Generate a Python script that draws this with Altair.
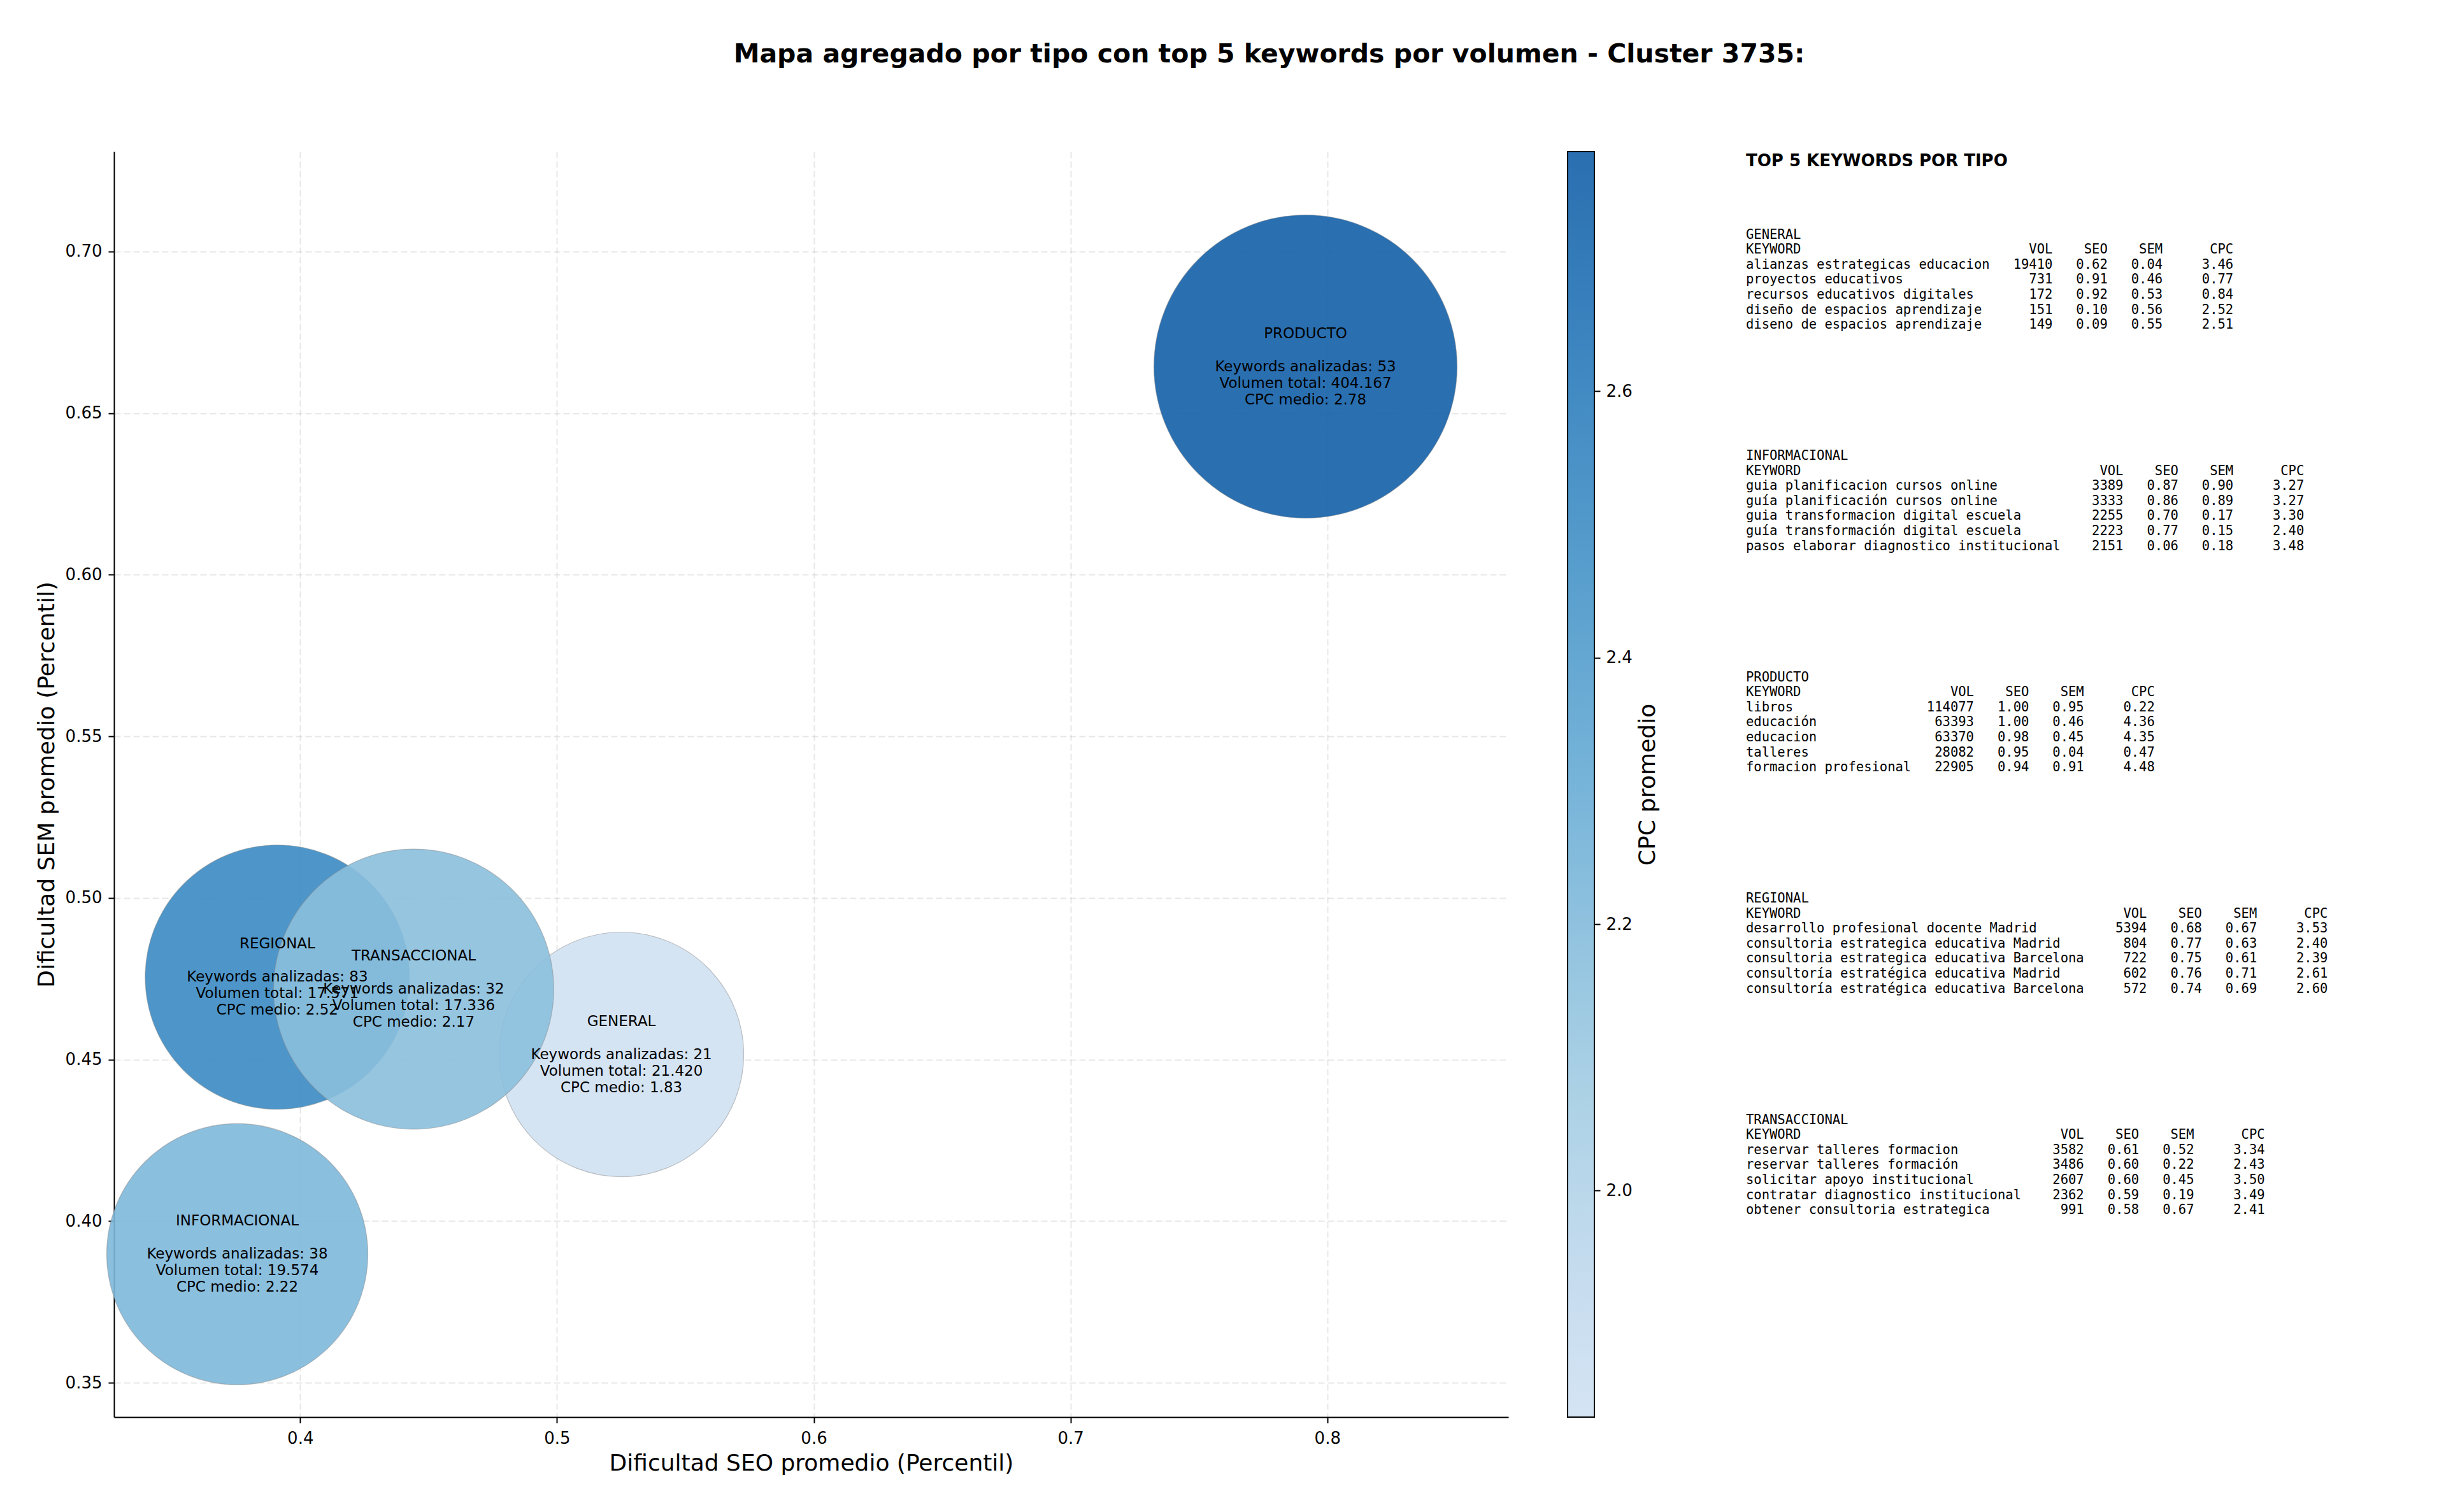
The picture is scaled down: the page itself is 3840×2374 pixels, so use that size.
import altair as alt
import pandas as pd

# ---------------- Datos agregados por tipo ----------------
tipos = ["GENERAL", "INFORMACIONAL", "PRODUCTO", "REGIONAL", "TRANSACCIONAL"]
seo_medio = [0.5251, 0.3755, 0.7915, 0.3911, 0.4442]
sem_medio = [0.4516, 0.3898, 0.6644, 0.4755, 0.4718]
cpc_medio = [1.83, 2.22, 2.78, 2.52, 2.17]
keywords_analizadas = [21, 38, 53, 83, 32]
volumen_total = [21420, 19574, 404167, 17571, 17336]
# area relativa de cada burbuja (PRODUCTO = 1)
area_relativa = [0.651, 0.742, 1.0, 0.760, 0.854]

# ---------------- Top 5 keywords por tipo ----------------
kw_general = ["alianzas estrategicas educacion", "proyectos educativos",
              "recursos educativos digitales", "diseño de espacios aprendizaje",
              "diseno de espacios aprendizaje"]
vol_general = [19410, 731, 172, 151, 149]
seo_general = [0.62, 0.91, 0.92, 0.10, 0.09]
sem_general = [0.04, 0.46, 0.53, 0.56, 0.55]
cpc_general = [3.46, 0.77, 0.84, 2.52, 2.51]

kw_info = ["guia planificacion cursos online", "guía planificación cursos online",
           "guia transformacion digital escuela", "guía transformación digital escuela",
           "pasos elaborar diagnostico institucional"]
vol_info = [3389, 3333, 2255, 2223, 2151]
seo_info = [0.87, 0.86, 0.70, 0.77, 0.06]
sem_info = [0.90, 0.89, 0.17, 0.15, 0.18]
cpc_info = [3.27, 3.27, 3.30, 2.40, 3.48]

kw_producto = ["libros", "educación", "educacion", "talleres", "formacion profesional"]
vol_producto = [114077, 63393, 63370, 28082, 22905]
seo_producto = [1.00, 1.00, 0.98, 0.95, 0.94]
sem_producto = [0.95, 0.46, 0.45, 0.04, 0.91]
cpc_producto = [0.22, 4.36, 4.35, 0.47, 4.48]

kw_regional = ["desarrollo profesional docente Madrid",
               "consultoria estrategica educativa Madrid",
               "consultoria estrategica educativa Barcelona",
               "consultoría estratégica educativa Madrid",
               "consultoría estratégica educativa Barcelona"]
vol_regional = [5394, 804, 722, 602, 572]
seo_regional = [0.68, 0.77, 0.75, 0.76, 0.74]
sem_regional = [0.67, 0.63, 0.61, 0.71, 0.69]
cpc_regional = [3.53, 2.40, 2.39, 2.61, 2.60]

kw_trans = ["reservar talleres formacion", "reservar talleres formación",
            "solicitar apoyo institucional", "contratar diagnostico institucional",
            "obtener consultoria estrategica"]
vol_trans = [3582, 3486, 2607, 2362, 991]
seo_trans = [0.61, 0.60, 0.60, 0.59, 0.58]
sem_trans = [0.52, 0.22, 0.45, 0.19, 0.67]
cpc_trans = [3.34, 2.43, 3.50, 3.49, 2.41]

x_ticks = [0.4, 0.5, 0.6, 0.7, 0.8]
y_ticks = [0.35, 0.40, 0.45, 0.50, 0.55, 0.60, 0.65, 0.70]
cb_ticks = [2.0, 2.2, 2.4, 2.6]

# colormap (Blues truncado)
blues = ["#d0e1f2", "#bdd7ec", "#a4cde3", "#87bddc", "#68acd5",
         "#4e9acb", "#3787c1", "#2373b6", "#135fa7"]

# ---------------- Construccion de tablas ----------------
def estadisticas(n, v, c):
    vol = f"{v:,}".replace(",", ".")
    return f"Keywords analizadas: {n}\nVolumen total: {vol}\nCPC medio: {c:.2f}"

df = pd.DataFrame({
    "tipo": tipos,
    "seo": seo_medio,
    "sem": sem_medio,
    "cpc": cpc_medio,
    "area": area_relativa,
    "stats": [estadisticas(n, v, c) for n, v, c in
              zip(keywords_analizadas, volumen_total, cpc_medio)],
})


def bloque(nombre, kws, vols, seos, sems, cpcs):
    L = max(len(k) for k in kws)
    lines = [nombre,
             "KEYWORD".ljust(L) + "VOL".rjust(8) + "SEO".rjust(7) + "SEM".rjust(7) + "CPC".rjust(9)]
    for k, v, s, m, c in zip(kws, vols, seos, sems, cpcs):
        lines.append(k.ljust(L) + str(v).rjust(8) + f"{s:.2f}".rjust(7)
                     + f"{m:.2f}".rjust(7) + f"{c:.2f}".rjust(9))
    return "\n".join(l.replace(" ", "\u00a0") for l in lines)


panel_df = pd.DataFrame({
    "bloque": [0, 1, 2, 3, 4],
    "texto": [
        bloque("GENERAL", kw_general, vol_general, seo_general, sem_general, cpc_general),
        bloque("INFORMACIONAL", kw_info, vol_info, seo_info, sem_info, cpc_info),
        bloque("PRODUCTO", kw_producto, vol_producto, seo_producto, sem_producto, cpc_producto),
        bloque("REGIONAL", kw_regional, vol_regional, seo_regional, sem_regional, cpc_regional),
        bloque("TRANSACCIONAL", kw_trans, vol_trans, seo_trans, sem_trans, cpc_trans),
    ],
})

cmin, cmax = min(cpc_medio), max(cpc_medio)
cb_df = pd.DataFrame({"lo": [cmin], "hi": [cmax]})
titulo_panel = pd.DataFrame({"t": ["TOP 5 KEYWORDS POR TIPO"]})

# ---------------- Escalas ----------------
W, H = 2189, 1987
x_scale = alt.Scale(domain=[0.3275, 0.8705], nice=False, zero=False)
y_scale = alt.Scale(domain=[0.3394, 0.7309], nice=False, zero=False)
color_domain = [cmin + k * (cmax - cmin) / (len(blues) - 1) for k in range(len(blues))]
color_scale = alt.Scale(domain=color_domain, range=blues, interpolate="rgb")

ejes = dict(labelFont="DejaVu Sans", labelFontSize=26, labelColor="black",
            titleFont="DejaVu Sans", titleFontSize=36, titleFontWeight="normal",
            titleColor="black", tickColor="black", tickSize=9, tickWidth=2)
grid = dict(grid=True, gridColor="#b0b0b0", gridOpacity=0.3, gridWidth=2, gridDash=[10, 5])

base = alt.Chart(df).encode(
    x=alt.X("seo:Q", scale=x_scale,
            axis=alt.Axis(title="Dificultad SEO promedio (Percentil)", values=x_ticks,
                          format=".1f", labelPadding=11, titlePadding=9,
                          domainColor="black", domainWidth=2, **grid, **ejes)),
    y=alt.Y("sem:Q", scale=y_scale,
            axis=alt.Axis(title="Dificultad SEM promedio (Percentil)", values=y_ticks,
                          orient="left", format=".2f", labelPadding=10, titlePadding=10,
                          domainColor="black", domainWidth=2, **grid, **ejes)),
)

puntos = base.mark_circle(opacity=1, fillOpacity=0.9, stroke="#8c8c8c",
                          strokeWidth=1.2, strokeOpacity=0.5).encode(
    color=alt.Color("cpc:Q", scale=color_scale, legend=None),
    size=alt.Size("area:Q", scale=alt.Scale(domain=[0, 1], range=[0, 226576]), legend=None),
)

texto_tipo = base.mark_text(font="DejaVu Sans", fontSize=23, align="center",
                            baseline="middle", color="black", dy=-52).encode(text="tipo:N")

texto_stats = base.mark_text(font="DejaVu Sans", fontSize=23, lineHeight=26, lineBreak="\n",
                             align="center", baseline="middle", color="black").encode(
    text="stats:N")

principal = alt.layer(puntos, texto_tipo, texto_stats)

# barra de color
barra = alt.Chart(cb_df).mark_rect(
    fill=alt.LinearGradient(
        gradient="linear", x1=0, x2=0, y1=1, y2=0,
        stops=[alt.GradientStop(color=c, offset=k / (len(blues) - 1)) for k, c in enumerate(blues)]),
    fillOpacity=0.9, stroke="black", strokeWidth=2,
).encode(
    x=alt.value(2282), x2=alt.value(2324),
    y=alt.Y("lo:Q", scale=alt.Scale(domain=[cmin, cmax], nice=False, zero=False),
            axis=alt.Axis(orient="right", offset=135, values=cb_ticks, format=".1f",
                          title="CPC promedio", titleAngle=270, titleBaseline="top",
                          titlePadding=7, labelPadding=9, grid=False, domain=False, **ejes)),
    y2="hi:Q",
)

# panel de texto
panel = alt.Chart(panel_df).mark_text(
    font="DejaVu Sans Mono", fontSize=20.5, lineHeight=23.6, lineBreak="\n",
    align="left", baseline="alphabetic", color="black",
).encode(
    x=alt.value(2562),
    y=alt.Y("bloque:Q", scale=alt.Scale(domain=[0, 4], range=[136.5, 1526.5]), axis=None),
    text="texto:N",
)

panel_titulo = alt.Chart(titulo_panel).mark_text(
    font="DejaVu Sans", fontSize=26, fontWeight="bold", align="left",
    baseline="middle", color="black",
).encode(x=alt.value(2562), y=alt.value(14.5), text="t:N")

chart = alt.layer(principal, barra, panel, panel_titulo).resolve_scale(
    y="independent"
).properties(
    width=W, height=H,
    padding={"left": 179, "top": 238, "right": 3840 - 179 - W, "bottom": 2374 - 238 - H},
    autosize=alt.AutoSizeParams(type="none"),
    background="white",
    title=alt.TitleParams(
        "Mapa agregado por tipo con top 5 keywords por volumen - Cluster 3735:",
        font="DejaVu Sans", fontSize=41, fontWeight="bold", color="black",
        anchor="middle", frame="group", dx=719, baseline="middle", offset=110),
).configure_view(stroke=None)

chart.save("out.html", embed_options={"renderer": "svg", "actions": False})
